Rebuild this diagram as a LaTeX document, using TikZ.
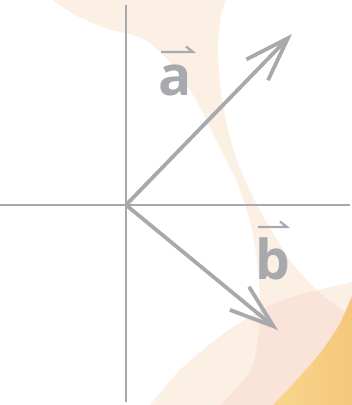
\documentclass[tikz,border=0pt]{standalone}
\usepackage{fontspec}
\setmainfont{Open Sans}
\usetikzlibrary{arrows.meta}
\definecolor{axisgray}{HTML}{A7A9AC}
\definecolor{peach}{HTML}{FCEFE4}
\definecolor{peachdark}{HTML}{FAE4D9}
\definecolor{orangeL}{HTML}{F9D68D}
\definecolor{orangeR}{HTML}{F5C77C}
\tikzset{
  axisline/.style={draw=axisgray, line width=2pt},
  vecline/.style={draw=axisgray, line width=3.8pt,
    -{Straight Barb[length=44pt, width=30pt, line width=3.8pt]}},
  lbl/.style={text=axisgray, font=\fontsize{55}{55}\selectfont\bfseries, inner sep=0pt, anchor=base},
  harp/.style={draw=axisgray, line width=2.2pt}
}
\begin{document}
\begin{tikzpicture}[x=1pt,y=-1pt]
\useasboundingbox (0,0) rectangle (352,405);
% background band
\fill[peach] plot[smooth] coordinates {(53,0)(75,15)(105,28)(125,33)(145,40)(170,62)(195,98)(215,138)(238,185)(252,230)(259,280)(259,330)(252,367)(235,390)(220,405)} -- (352,405) -- plot[smooth] coordinates {(352,317)(320,293)(290,260)(257,205)(235,155)(222,100)(218,50)(221,15)(226,0)} -- cycle;
% bottom ellipse
\fill[peach] plot[smooth] coordinates {(150,405)(183,367)(233,327)(283,300)(352,282)} -- (352,405) -- cycle;
\begin{scope}
\clip plot[smooth] coordinates {(150,405)(183,367)(233,327)(283,300)(352,282)} -- (352,405) -- cycle;
\fill[peachdark] plot[smooth] coordinates {(53,0)(75,15)(105,28)(125,33)(145,40)(170,62)(195,98)(215,138)(238,185)(252,230)(259,280)(259,330)(252,367)(235,390)(220,405)} -- (352,405) -- plot[smooth] coordinates {(352,317)(320,293)(290,260)(257,205)(235,155)(222,100)(218,50)(221,15)(226,0)} -- cycle;
\end{scope}
% orange corner
\shade[left color=orangeL, right color=orangeR] plot[smooth] coordinates {(352,296)(339,325)(320,353)(294,383)(273,405)} -- (352,405) -- cycle;
% axes
\coordinate (O) at (126,205);
\coordinate (vt) at (126,5);
\coordinate (vb) at (126,402);
\coordinate (hl) at (0,205);
\coordinate (hr) at (350,205);
\coordinate (A) at (292,34);
\coordinate (B) at (278,330);
\draw[axisline] (vt) -- (vb);
\draw[axisline] (hl) -- (hr);
% vectors
\draw[vecline] (O) -- (A);
\draw[vecline] (O) -- (B);
% labels
\node[lbl] (la) at (175.5,95) {a};
\node[lbl] (lb) at (273,279) {b};
\draw[harp] (161,52) -- (193,52) -- (186,46.5);
\draw[harp] (258,227) -- (287,227) -- (280,221.5);
\end{tikzpicture}
\end{document}
